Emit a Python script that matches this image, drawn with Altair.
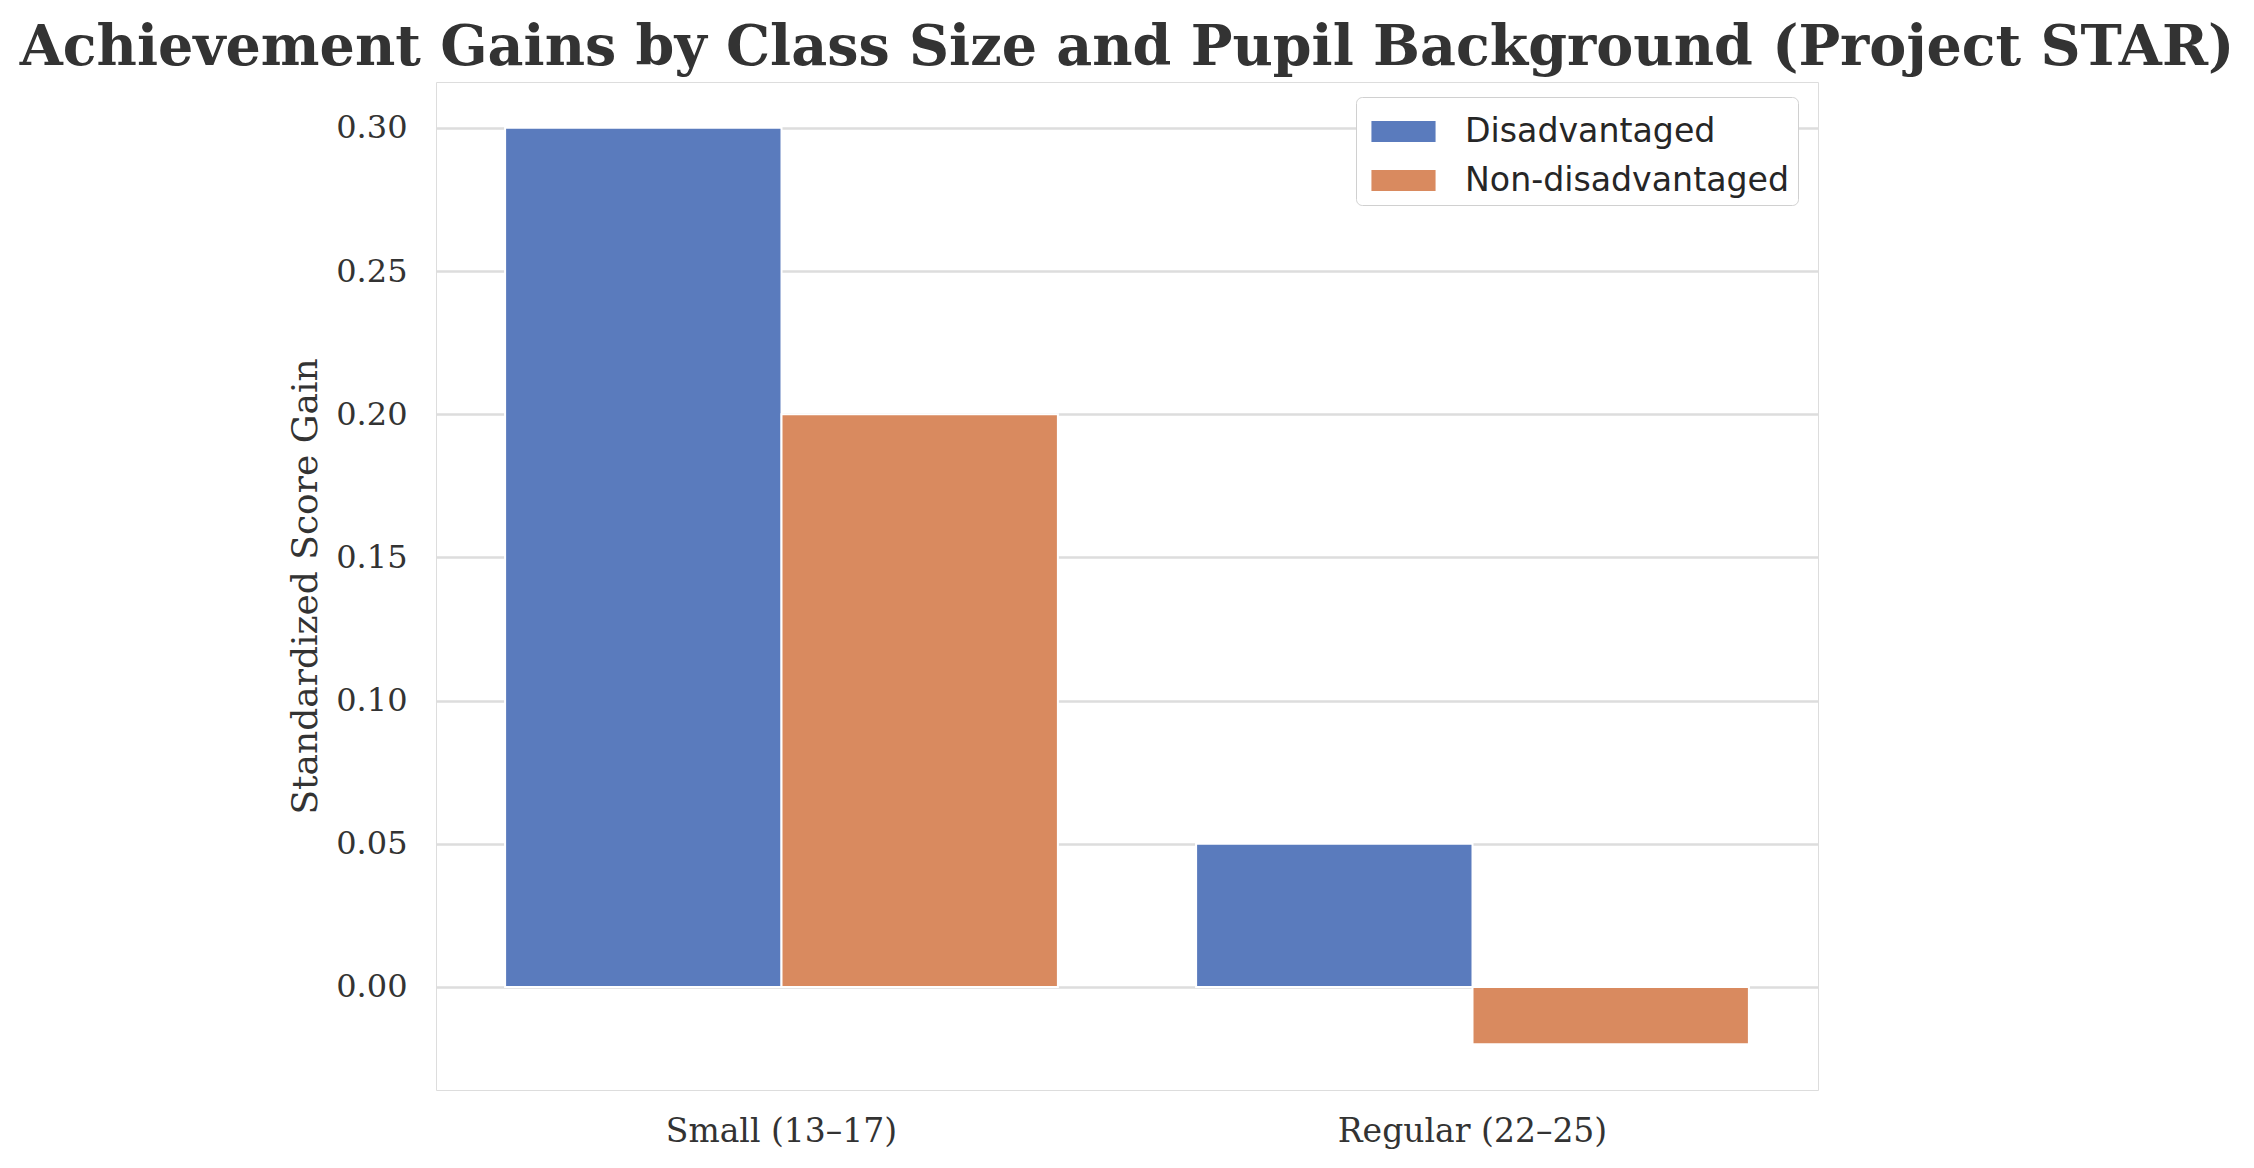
import altair as alt
import pandas as pd

class_sizes = ["Small (13–17)", "Regular (22–25)"]
groups = ["Disadvantaged", "Non-disadvantaged"]
disadvantaged = [0.30, 0.05]
non_disadvantaged = [0.20, -0.02]
colors = ["#5a7bbd", "#d98a5f"]
y_ticks = [0.0, 0.05, 0.10, 0.15, 0.20, 0.25, 0.30]

rows = []
for i, c in enumerate(class_sizes):
    rows.append({"cls": c, "grp": groups[0], "gain": disadvantaged[i]})
    rows.append({"cls": c, "grp": groups[1], "gain": non_disadvantaged[i]})
df = pd.DataFrame(rows)

serif = "DejaVu Serif"
sans = "DejaVu Sans"
txt = "#333333"

bars = alt.Chart(df).mark_bar(stroke="white", strokeWidth=2).encode(
    x=alt.X("cls:N", sort=class_sizes,
            scale=alt.Scale(paddingInner=0.2, paddingOuter=0.1),
            axis=alt.Axis(title=None, labelAngle=0, ticks=False, domain=False, grid=False,
                          labelFont=serif, labelFontSize=33, labelColor=txt,
                          labelPadding=25, labelLimit=0)),
    xOffset=alt.XOffset("grp:N", sort=groups,
                        scale=alt.Scale(paddingInner=0, paddingOuter=0)),
    y=alt.Y("gain:Q", scale=alt.Scale(domain=[-0.036, 0.316], nice=False, zero=False),
            axis=alt.Axis(title="Standardized Score Gain", values=y_ticks, format=".2f",
                          ticks=False, domain=False, grid=True, gridColor="#dddddd",
                          gridWidth=2.5, labelFont=serif, labelFontSize=32,
                          labelColor=txt, labelPadding=29, titleFont=serif,
                          titleFontSize=36, titleFontWeight="normal", titleColor=txt,
                          titlePadding=11)),
    color=alt.Color("grp:N", sort=groups,
                    scale=alt.Scale(domain=groups, range=colors),
                    legend=alt.Legend(title=None, orient="none", legendX=920, legendY=15,
                                      symbolType="M-1.21,-0.4H1.21V0.4H-1.21Z",
                                      symbolSize=2809, symbolStrokeWidth=0,
                                      symbolOpacity=1, symbolOffset=13,
                                      labelFont=sans, labelFontSize=33.2,
                                      labelColor="#262626", labelOffset=35,
                                      labelLimit=0,
                                      rowPadding=6, padding=8,
                                      strokeColor="#d0d0d0", fillColor="white",
                                      cornerRadius=6)),
)

chart = bars.properties(
    width=1382, height=1008,
    title=alt.Title("Achievement Gains by Class Size and Pupil Background (Project STAR)",
                    font=serif, fontSize=55.5, fontWeight="bold", color=txt,
                    anchor="middle", frame="group", baseline="alphabetic", offset=19,
                    dy=57),
    autosize=alt.AutoSizeParams(type="none"),
    padding={"left": 436, "right": 436, "top": 82, "bottom": 78},
).configure_view(stroke="#c2c2c2", strokeWidth=4).configure(background="white")

chart.save("out.html", embed_options={"renderer": "svg", "actions": False})
